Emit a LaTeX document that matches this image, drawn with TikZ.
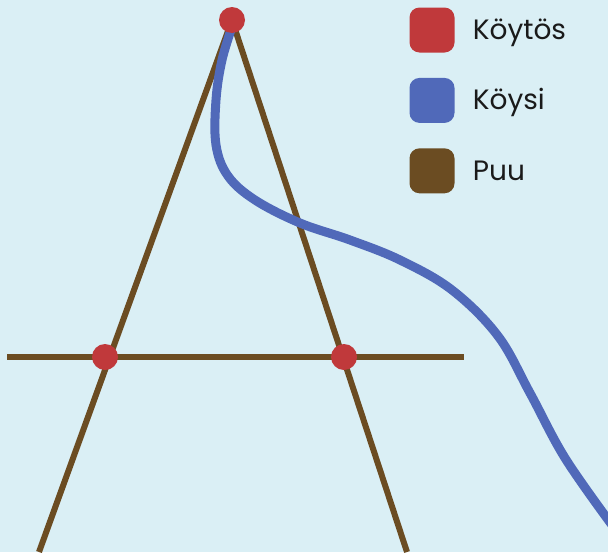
\documentclass[tikz,border=0pt]{standalone}
\usepackage{fontspec}
\setmainfont{Poppins}
\usepackage{tikz}
\usetikzlibrary{positioning}
\definecolor{sky}{HTML}{DAEFF5}
\definecolor{knot}{HTML}{C0393B}
\definecolor{rope}{HTML}{5069B9}
\definecolor{wood}{HTML}{6B4C22}
\definecolor{ink}{HTML}{1A1A1A}

\begin{document}
\begin{tikzpicture}[
  x=1pt, y=-1pt,
  node distance=18pt,
  pole/.style={draw=wood, line width=6pt},
  ropeline/.style={draw=rope, line width=9pt, line cap=round, line join=round},
  knotdot/.style={circle, fill=knot, minimum size=26pt, inner sep=0pt},
  swatch/.style={rounded corners=10pt, minimum size=45pt, inner sep=0pt},
  lbl/.style={text=ink, font=\fontsize{28}{30}\selectfont, text height=0.7em, text depth=0pt, inner sep=0pt, yshift=-6pt}
]
  \fill[sky] (0,0) rectangle (608,552);
  \useasboundingbox (0,0) rectangle (608,552);

  % legs and crossbar
  \coordinate (top) at (232,20);
  \coordinate (footL) at (39,552);
  \coordinate (footR) at (407,552);
  \coordinate (barL) at (7,357);
  \coordinate (barR) at (464,357);
  \draw[pole] (top) -- (footL);
  \draw[pole] (top) -- (footR);
  \draw[pole] (barL) -- (barR);

  % rope
  \draw[ropeline] plot[smooth, tension=0.6] coordinates {
    (233,24) (222,60) (216,100) (216,145) (228,176) (255,200)
    (300,223) (350,240) (400,260) (452,290) (498,336)
    (530,393) (565,458) (612,525)};

  % knots
  \node[knotdot] (k0) at (top) {};
  \node[knotdot] (k1) at (105,357) {};
  \node[knotdot] (k2) at (344,357) {};

  % legend
  \node[swatch, fill=knot] (sKnot) at (432,30) {};
  \node[swatch, fill=rope, below=25pt of sKnot] (sRope) {};
  \node[swatch, fill=wood, below=25pt of sRope] (sWood) {};
  \node[lbl, right=18pt of sKnot] (tKnot) {Köytös};
  \node[lbl, right=18pt of sRope] (tRope) {Köysi};
  \node[lbl, right=18pt of sWood] (tWood) {Puu};
\end{tikzpicture}
\end{document}
